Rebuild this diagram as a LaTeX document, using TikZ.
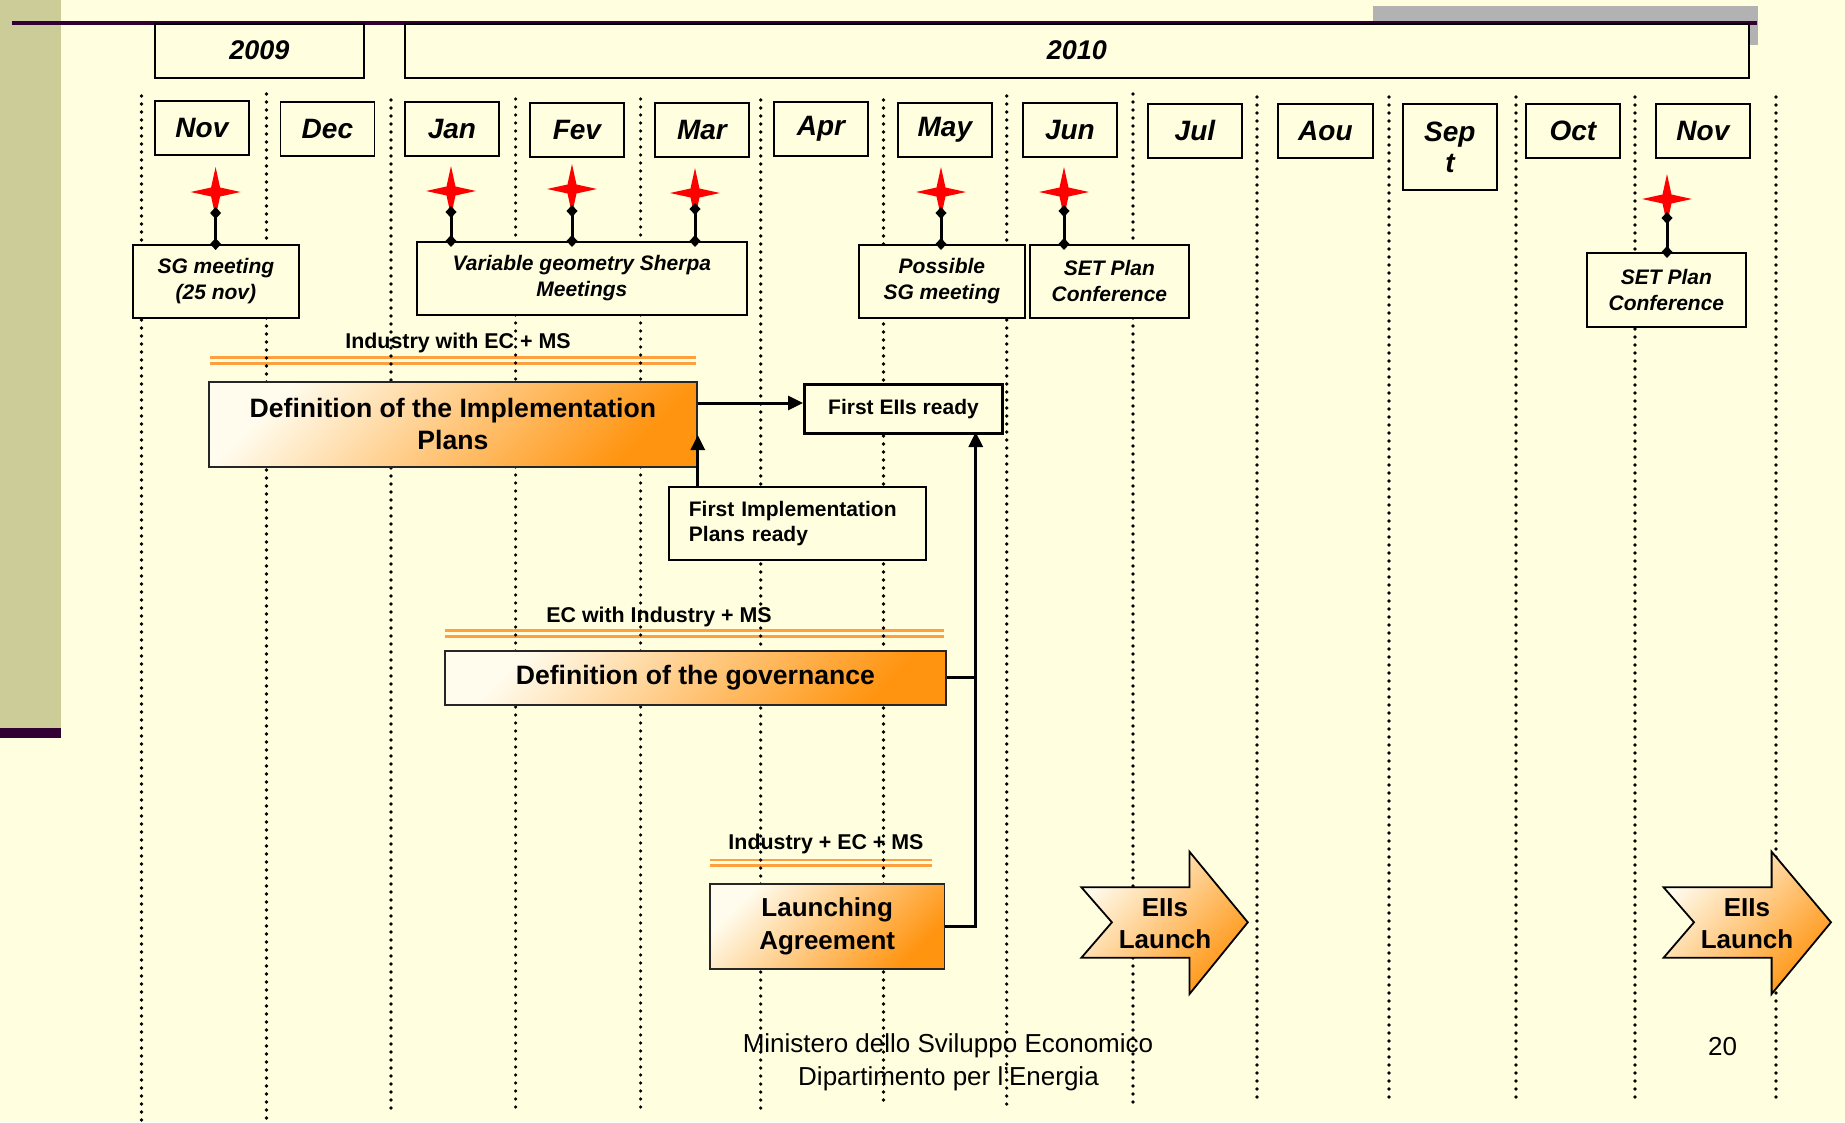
\documentclass[tikz,border=0pt]{standalone}
\usepackage{fontspec}
\setmainfont{Liberation Sans}
\usetikzlibrary{arrows.meta,calc}
\definecolor{bgc}{RGB}{255,255,224}
\definecolor{sideolive}{RGB}{204,204,153}
\definecolor{darkpurp}{RGB}{51,0,51}
\definecolor{graybar}{RGB}{178,178,178}
\definecolor{orline}{RGB}{255,160,64}
\definecolor{grlight}{RGB}{255,252,238}
\definecolor{grdark}{RGB}{255,148,16}
\definecolor{starred}{RGB}{255,0,0}
\tikzset{
  dotline/.style={line width=3.6pt, dash pattern=on 0pt off 8pt, line cap=round},
  mbox/.style={draw=black, line width=1.8pt, fill=bgc, anchor=north west, inner sep=0pt,
    minimum width=94pt, minimum height=54pt, font=\fontsize{28}{31}\selectfont\bfseries\itshape, align=center},
  ybox/.style={draw=black, line width=1.8pt, fill=bgc, anchor=north west, inner sep=0pt,
    minimum height=54pt, font=\fontsize{27}{30}\selectfont\bfseries\itshape},
  evbox/.style={draw=black, line width=1.8pt, fill=bgc, anchor=north west, inner sep=0pt,
    font=\fontsize{21}{26}\selectfont\bfseries\itshape, align=center},
  gbox/.style={draw=black!85, line width=1.8pt, top color=grlight, bottom color=grdark, shading angle=45,
    anchor=north west, inner sep=0pt, font=\fontsize{26.6}{32}\selectfont\bfseries, align=center},
  infobox/.style={draw=black, fill=bgc, anchor=north west, inner sep=0pt,
    font=\fontsize{21}{25}\selectfont\bfseries},
  lbl/.style={inner sep=0pt, font=\fontsize{21.4}{25}\selectfont\bfseries},
  orl/.style={orline, line width=2.6pt},
  foot/.style={inner sep=0pt, font=\fontsize{26}{33}\selectfont},
  pin/.style={line width=3pt, {Diamond[length=12pt,width=11pt]}-{Diamond[length=12pt,width=11pt]},
    shorten <=-6pt, shorten >=-6pt},
  conn/.style={line width=3pt, -{Triangle[length=15pt,width=14pt]}},
  launchshape/.style={draw=black, line width=1.8pt, top color=grlight, bottom color=grdark, shading angle=45},
  launchtxt/.style={inner sep=0pt, font=\fontsize{26}{32}\selectfont\bfseries, align=center},
  redstar/.pic={\fill[starred] (0,-25) -- (4.5,-4.5) -- (25,0) -- (4.5,4.5) -- (0,25) -- (-4.5,4.5) -- (-25,0) -- (-4.5,-4.5) -- cycle;}
}
\begin{document}
\begin{tikzpicture}[x=1pt,y=-1pt]
\useasboundingbox (0,0) rectangle (1845,1122);
\fill[bgc] (0,0) rectangle (1845,1122);
\fill[sideolive] (0,0) rectangle (61,728);
\fill[darkpurp] (0,728) rectangle (61,738);
\fill[graybar] (1373,6) rectangle (1758,45);
\draw[darkpurp, line width=4pt] (12,22.5) -- (1757,22.5);

% footer and labels (under the dotted lines)
\node[foot] (f1) at (948,1046) {Ministero dello Sviluppo Economico};
\node[foot] (f2) at (948.5,1079) {Dipartimento per l'Energia};
\node[foot] (pg) at (1722.5,1047) {20};
\node[lbl] (l1) at (458,343) {Industry with EC + MS};
\node[lbl] (l2) at (659,617) {EC with Industry + MS};
\node[lbl] (l3) at (826,844) {Industry + EC + MS};
\draw[orl] (210,357.3) -- (696,357.3);
\draw[orl] (210,363.3) -- (696,363.3);
\draw[orl] (445,630.7) -- (943.5,630.7);
\draw[orl] (445,636.2) -- (943.5,636.2);
\draw[orl] (710,860) -- (932,860);
\draw[orl] (710,865.5) -- (932,865.5);

% dotted month separators
\foreach \x/\a/\b in {141.5/96/1122, 266.5/94/1119, 391/100/1111, 515.6/99/1111, 640.6/99/1108,
  760.7/100/1111, 883.5/100/1103, 1006.7/96/1106, 1133/94/1105, 1257/97/1100, 1389/97/1100,
  1516/97/1100, 1635/97/1100, 1776/97/1100}
  \draw[dotline] (\x,\a) -- (\x,\b);

% years
\node[ybox, minimum width=209pt, text depth=2pt] (y2009) at (154,23) {2009};
\node[ybox, minimum width=1344pt, text depth=2pt] (y2010) at (404,23) {2010};

% months
\node[mbox] (mnov) at (154,100) {Nov};
\node[mbox] (mdec) at (279.5,101) {Dec};
\node[mbox] (mjan) at (404,101) {Jan};
\node[mbox] (mfev) at (529,102) {Fev};
\node[mbox] (mmar) at (654,102) {Mar};
\node[mbox] (mapr) at (773,101) {Apr};
\node[mbox] (mmay) at (897,102) {May};
\node[mbox] (mjun) at (1022,102) {Jun};
\node[mbox] (mjul) at (1147,103) {Jul};
\node[mbox, minimum width=95pt] (maou) at (1277,103) {Aou};
\node[mbox, minimum height=86pt] (msep) at (1402,103) {Sep\\t};
\node[mbox] (moct) at (1525,103) {Oct};
\node[mbox] (mnovb) at (1655,103) {Nov};

% event boxes
\node[evbox, minimum width=166pt, minimum height=73pt] (esg) at (132,244) {SG meeting\\(25 nov)};
\node[evbox, minimum width=330pt, minimum height=73pt] (evg) at (416,241) {Variable geometry Sherpa\\Meetings};
\node[evbox, minimum width=166pt, minimum height=73pt] (epsg) at (858,244) {Possible\\SG meeting};
\node[evbox, minimum width=159pt, minimum height=73pt] (espc) at (1029,244) {SET Plan\\Conference};
\node[evbox, minimum width=159pt, minimum height=74pt] (espcb) at (1586,252) {SET Plan\\Conference};

% stars
\coordinate (snov) at (215.6,192);
\coordinate (sjan) at (451,191);
\coordinate (sfev) at (572,189);
\coordinate (smar) at (695,193);
\coordinate (smay) at (941,192);
\coordinate (sjun) at (1064,192);
\coordinate (snovb) at (1667,199);
\foreach \s in {snov,sjan,sfev,smar,smay,sjun,snovb} \pic at (\s) {redstar};
\coordinate (pnov) at (215.6,213);
\coordinate (pjan) at (451,212);
\coordinate (pfev) at (572,211);
\coordinate (pmar) at (695,209);
\coordinate (pmay) at (941,213);
\coordinate (pjun) at (1064,211);
\coordinate (pnovb) at (1667,218);
\draw[pin] (pnov) -- (pnov |- esg.north);
\draw[pin] (pjan) -- (pjan |- evg.north);
\draw[pin] (pfev) -- (pfev |- evg.north);
\draw[pin] (pmar) -- (pmar |- evg.north);
\draw[pin] (pmay) -- (pmay |- epsg.north);
\draw[pin] (pjun) -- (pjun |- espc.north);
\draw[pin] (pnovb) -- (pnovb |- espcb.north);

% work packages
\node[gbox, minimum width=488pt, minimum height=85pt] (dip) at (208,381) {Definition of the Implementation\\Plans};
\node[gbox, minimum width=501pt, minimum height=54pt] (gov) at (444,650) {Definition of the governance};
\node[gbox, minimum width=234.5pt, minimum height=85pt, font=\fontsize{26}{33}\selectfont\bfseries] (la) at (709,883) {Launching\\Agreement};

\node[infobox, line width=3pt, minimum width=198pt, minimum height=49pt] (fer) at (803,383) {First EIIs ready};
\node[infobox, line width=1.8pt, minimum height=73pt, text width=217pt, inner xsep=20pt, align=left] (fip) at (668,486) {First Implementation\\Plans ready};

% connectors
\coordinate (yA) at (0,403);
\coordinate (yB) at (0,435);
\coordinate (vx) at (975.7,432);
\draw[conn] (dip.east |- yA) -- (fer.west |- yA);
\draw[conn] (fip.north -| dip.east) -- (dip.east |- yB);
\draw[line width=3pt] (gov.east) -- (gov.east -| vx);
\draw[conn] (la.east) -| (vx);

% EIIs launch arrows
\path[launchshape] (1081.4,887.3) -- (1189.5,887.3) -- (1189.5,851.7) -- (1247.8,922.3) -- (1189.5,994)
  -- (1189.5,957.7) -- (1081.4,957.7) -- (1111.9,922.3) -- cycle;
\node[launchtxt] (eil1) at (1165,924) {EIIs\\Launch};
\path[launchshape] (1663.6,887.3) -- (1771.6,887.3) -- (1771.6,851.7) -- (1831,922.3) -- (1771.6,994)
  -- (1771.6,957.7) -- (1663.6,957.7) -- (1694,922.3) -- cycle;
\node[launchtxt] (eil2) at (1747,924) {EIIs\\Launch};
\end{tikzpicture}
\end{document}
